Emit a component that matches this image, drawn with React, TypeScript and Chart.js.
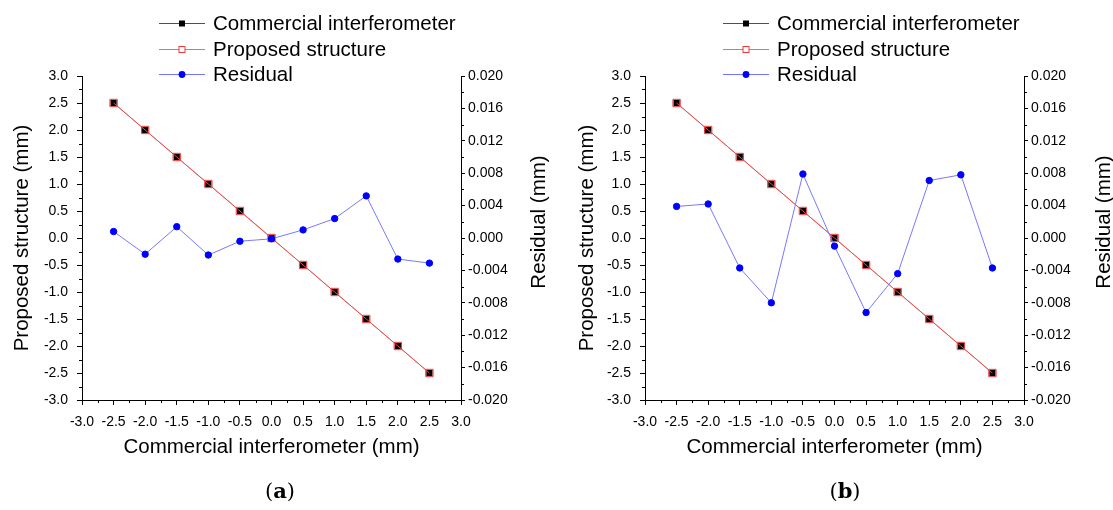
import React, { useEffect, useRef } from 'react';
import { Chart, registerables } from 'chart.js';

Chart.register(...registerables);

// ---------- data ----------
const xValues = [-2.5, -2, -1.5, -1, -0.5, 0, 0.5, 1, 1.5, 2, 2.5];
const commercialA = [2.5, 2, 1.5, 1, 0.5, 0, -0.5, -1, -1.5, -2, -2.5];
const proposedA = [2.5, 2, 1.5, 1, 0.5, 0, -0.5, -1, -1.5, -2, -2.5];
const residualA = [0.0008, -0.002, 0.0014, -0.0021, -0.0004, -0.0001, 0.001, 0.0024, 0.0052, -0.0026, -0.0031];
const commercialB = [2.5, 2, 1.5, 1, 0.5, 0, -0.5, -1, -1.5, -2, -2.5];
const proposedB = [2.5, 2, 1.5, 1, 0.5, 0, -0.5, -1, -1.5, -2, -2.5];
const residualB = [0.0039, 0.0042, -0.0037, -0.008, 0.0079, -0.001, -0.0092, -0.0044, 0.0071, 0.0078, -0.0037];

const seriesNames = ['Commercial interferometer', 'Proposed structure', 'Residual'];
const xAxisTitle = 'Commercial interferometer (mm)';
const leftAxisTitle = 'Proposed structure (mm)';
const rightAxisTitle = 'Residual (mm)';
const panelLetters = ['a', 'b'];

const xRange = [-3, 3];
const xStep = 0.5;
const leftRange = [-3, 3];
const leftStep = 0.5;
const rightRange = [-0.02, 0.02];
const rightStep = 0.004;

const SANS = '"Liberation Sans", Arial, sans-serif';
const tickFont = { family: SANS, size: 14 };
const titleFont = { family: SANS, size: 20.5 };

const fmt = (d: number) => (v: any) => {
  const n = Number(v);
  if (Math.abs(n) < 1e-9) return (0).toFixed(d);
  return n.toFixed(d);
};

const minorTicksPlugin = {
  id: 'minorTicks',
  afterDraw(chart: any) {
    const ctx = chart.ctx;
    const area = chart.chartArea;
    ctx.save();
    ctx.strokeStyle = '#000';
    ctx.lineWidth = 1;
    const mids = (scale: any) => {
      const t = scale.ticks.map((k: any) => k.value);
      const out: number[] = [];
      for (let i = 0; i < t.length - 1; i++) out.push((t[i] + t[i + 1]) / 2);
      return out;
    };
    const xs = chart.scales.x;
    const bottom = Math.round(area.bottom);
    mids(xs).forEach((v) => {
      const p = Math.round(xs.getPixelForValue(v)) + 0.5;
      ctx.beginPath();
      ctx.moveTo(p, bottom);
      ctx.lineTo(p, bottom + 3);
      ctx.stroke();
    });
    const ys = chart.scales.y;
    const left = Math.round(area.left);
    mids(ys).forEach((v) => {
      const p = Math.round(ys.getPixelForValue(v)) + 0.5;
      ctx.beginPath();
      ctx.moveTo(left, p);
      ctx.lineTo(left - 3, p);
      ctx.stroke();
    });
    const y1 = chart.scales.y1;
    const right = Math.round(area.right);
    mids(y1).forEach((v) => {
      const p = Math.round(y1.getPixelForValue(v)) + 0.5;
      ctx.beginPath();
      ctx.moveTo(right, p);
      ctx.lineTo(right + 3, p);
      ctx.stroke();
    });
    ctx.restore();
  },
};

const decorPlugin = {
  id: 'decor',
  afterDraw(chart: any, _args: any, opts: any) {
    const ctx = chart.ctx;
    ctx.save();
    // legend
    const lineColors = ['#505050', '#f06a6a', '#7373ff'];
    seriesNames.forEach((name, i) => {
      const y = opts.rowY[i];
      ctx.strokeStyle = lineColors[i];
      ctx.lineWidth = 1;
      ctx.beginPath();
      ctx.moveTo(opts.x0, Math.round(y) + 0.5);
      ctx.lineTo(opts.x1, Math.round(y) + 0.5);
      ctx.stroke();
      const mx = (opts.x0 + opts.x1) / 2;
      const my = Math.round(y) + 0.5;
      if (i === 0) {
        ctx.fillStyle = '#000';
        ctx.fillRect(mx - 3, my - 3, 6, 6);
      } else if (i === 1) {
        ctx.fillStyle = '#fff';
        ctx.fillRect(mx - 3, my - 3, 6, 6);
        ctx.strokeStyle = '#e83a3a';
        ctx.strokeRect(mx - 3, my - 3, 6, 6);
      } else {
        ctx.fillStyle = '#0000ff';
        ctx.beginPath();
        ctx.arc(mx, my, 3.4, 0, Math.PI * 2);
        ctx.fill();
      }
      ctx.fillStyle = '#000';
      ctx.font = `20.5px ${SANS}`;
      ctx.textAlign = 'left';
      ctx.textBaseline = 'middle';
      ctx.fillText(name, opts.textX, y + 1);
    });
    // right axis title (reads bottom-to-top)
    ctx.save();
    ctx.translate(opts.rightTitleX, opts.rightTitleY);
    ctx.rotate(-Math.PI / 2);
    ctx.fillStyle = '#000';
    ctx.font = `20.5px ${SANS}`;
    ctx.textAlign = 'center';
    ctx.textBaseline = 'middle';
    ctx.fillText(rightAxisTitle, 0, 0);
    ctx.restore();
    // panel label "(a)"
    const serif = '"DejaVu Serif", "Liberation Serif", serif';
    const size = 21;
    ctx.font = `${size}px ${serif}`;
    const open = '(';
    const close = ')';
    const wOpen = ctx.measureText(open).width;
    const wClose = ctx.measureText(close).width;
    ctx.font = `bold ${size}px ${serif}`;
    const wLetter = ctx.measureText(opts.letter).width;
    const total = wOpen + wLetter + wClose;
    let x = opts.labelX - total / 2;
    ctx.textAlign = 'left';
    ctx.textBaseline = 'middle';
    ctx.fillStyle = '#000';
    ctx.font = `${size}px ${serif}`;
    ctx.fillText(open, x, opts.labelY);
    x += wOpen;
    ctx.font = `bold ${size}px ${serif}`;
    ctx.fillText(opts.letter, x, opts.labelY);
    x += wLetter;
    ctx.font = `${size}px ${serif}`;
    ctx.fillText(close, x, opts.labelY);
    ctx.restore();
  },
};

type PanelProps = {
  width: number;
  commercial: number[];
  proposed: number[];
  residual: number[];
  leftW: number;
  rightW: number;
  leftTitlePad: number;
  decor: any;
};

function Panel(props: PanelProps) {
  const ref = useRef<HTMLCanvasElement | null>(null);
  useEffect(() => {
    if (!ref.current) return;
    const pts = (ys: number[]) => xValues.map((x, i) => ({ x, y: ys[i] }));
    const chart = new Chart(ref.current, {
      type: 'line',
      data: {
        datasets: [
          {
            label: seriesNames[2],
            data: pts(props.residual),
            yAxisID: 'y1',
            borderColor: '#7878ff',
            borderWidth: 1,
            pointStyle: 'circle',
            pointRadius: 3.2,
            pointBorderWidth: 1,
            pointBackgroundColor: '#0000ff',
            pointBorderColor: '#0000ff',
            tension: 0,
            order: 0,
          },
          {
            label: seriesNames[1],
            data: pts(props.proposed),
            yAxisID: 'y',
            borderColor: '#f04848',
            borderWidth: 1,
            pointStyle: 'rect',
            pointRadius: 5.2,
            pointBorderWidth: 1,
            pointBackgroundColor: 'rgba(0,0,0,0)',
            pointBorderColor: '#e83a3a',
            tension: 0,
            order: 1,
          },
          {
            label: seriesNames[0],
            data: pts(props.commercial),
            yAxisID: 'y',
            borderColor: 'rgba(60,0,0,0.6)',
            borderWidth: 0.6,
            pointStyle: 'rect',
            pointRadius: 4.4,
            pointBorderWidth: 0,
            pointBackgroundColor: '#000',
            pointBorderColor: '#000',
            tension: 0,
            order: 2,
          },
        ],
      },
      options: {
        animation: false,
        responsive: false,
        events: [],
        layout: { padding: { top: 76, left: 0, right: 0, bottom: 0 } },
        plugins: {
          legend: { display: false },
          tooltip: { enabled: false },
          decor: props.decor,
        } as any,
        scales: {
          x: {
            type: 'linear',
            position: 'bottom',
            min: xRange[0],
            max: xRange[1],
            ticks: { stepSize: xStep, callback: fmt(1), font: tickFont, color: '#000', padding: 9, maxRotation: 0, autoSkip: false },
            grid: { display: true, drawOnChartArea: false, drawTicks: true, tickLength: 5, tickColor: '#000' },
            border: { display: true, color: '#000', width: 1 },
            title: { display: true, text: xAxisTitle, font: titleFont, color: '#000', padding: { top: 0, bottom: 50 } },
            afterFit: (s: any) => { s.height = 110; },
          },
          y: {
            type: 'linear',
            position: 'left',
            min: leftRange[0],
            max: leftRange[1],
            ticks: { stepSize: leftStep, callback: fmt(1), font: tickFont, color: '#000', padding: 9, autoSkip: false },
            grid: { display: true, drawOnChartArea: false, drawTicks: true, tickLength: 5, tickColor: '#000' },
            border: { display: true, color: '#000', width: 1 },
            title: { display: true, text: leftAxisTitle, font: titleFont, color: '#000', padding: { top: props.leftTitlePad, bottom: 0 } },
            afterFit: (s: any) => { s.width = props.leftW; },
          },
          y1: {
            type: 'linear',
            position: 'right',
            min: rightRange[0],
            max: rightRange[1],
            ticks: { stepSize: rightStep, callback: fmt(3), font: tickFont, color: '#000', padding: 3, autoSkip: false },
            grid: { display: true, drawOnChartArea: false, drawTicks: true, tickLength: 4, tickColor: '#000' },
            border: { display: true, color: '#000', width: 1 },
            afterFit: (s: any) => { s.width = props.rightW; },
          },
        },
      } as any,
      plugins: [minorTicksPlugin, decorPlugin],
    });
    return () => chart.destroy();
  }, []);
  return <canvas ref={ref} width={props.width} height={510} style={{ display: 'block', width: props.width, height: 510 }} />;
}

export default function App() {
  return (
    <div style={{ position: 'absolute', left: 0, top: 0, width: 1113, height: 510, background: '#fff', display: 'flex' }}>
      <Panel
        width={556}
        commercial={commercialA}
        proposed={proposedA}
        residual={residualA}
        leftW={82}
        rightW={95}
        leftTitlePad={10}
        decor={{ x0: 159, x1: 205, textX: 213, rowY: [23, 49, 74], rightTitleX: 539, rightTitleY: 222, letter: panelLetters[0], labelX: 280, labelY: 493 }}
      />
      <Panel
        width={557}
        commercial={commercialB}
        proposed={proposedB}
        residual={residualB}
        leftW={89}
        rightW={89}
        leftTitlePad={19}
        decor={{ x0: 167, x1: 213, textX: 221, rowY: [23, 49, 74], rightTitleX: 548, rightTitleY: 222, letter: panelLetters[1], labelX: 289, labelY: 493 }}
      />
    </div>
  );
}
